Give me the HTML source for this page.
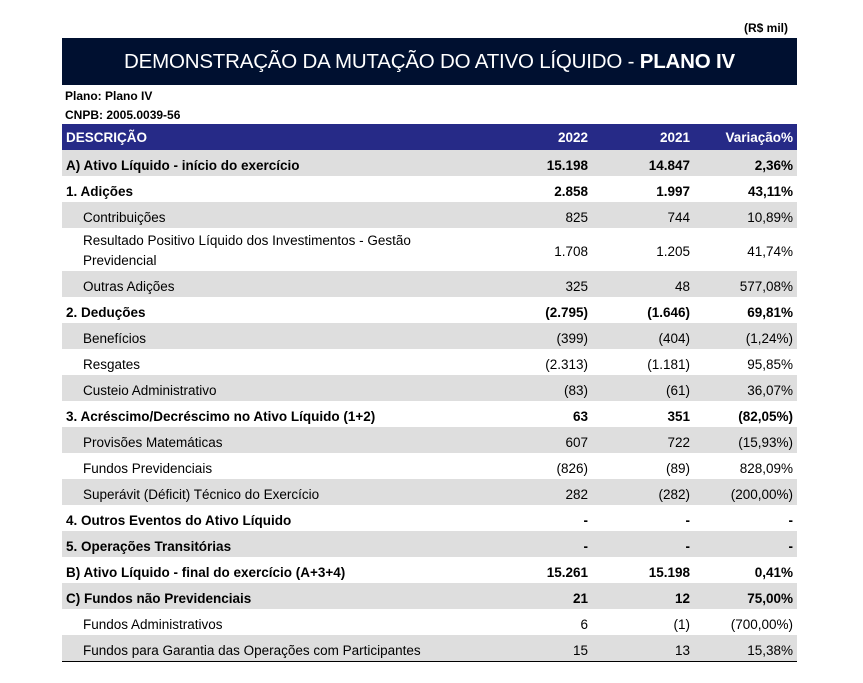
<!DOCTYPE html>
<html><head><meta charset="utf-8"><style>
body{margin:0;width:863px;height:683px;background:#fff;font-family:"Liberation Sans",sans-serif;color:#000;position:relative;overflow:hidden}
.unit{position:absolute;top:21px;right:75px;font-size:12px;font-weight:bold}
.title{position:absolute;left:62px;top:38px;width:735px;height:47px;background:#001030;color:#fff;font-size:20.5px;text-align:center;line-height:48px;letter-spacing:-0.2px}
.meta{position:absolute;left:65px;font-size:12px;font-weight:bold}
table{position:absolute;left:62px;top:124px;width:735px;border-collapse:collapse;font-size:13.5px}
td{padding:4px 4px 0 4px;height:22px;white-space:nowrap;box-sizing:content-box}
td.n{text-align:right}
td:nth-child(2){width:120px;padding-right:4px}
td:nth-child(3){width:94px;padding-right:4px}
td:nth-child(4){width:95px}
tr.h td{background:#262a87;color:#fff;font-weight:bold;padding-top:1px;height:25px}
tr.g td{background:#dedede}
tr.b td{font-weight:bold}
td.i{padding-left:21px}
tr.last td{border-bottom:1.5px solid #000}
</style></head><body>
<div class="unit">(R$ mil)</div>
<div class="title">DEMONSTRAÇÃO DA MUTAÇÃO DO ATIVO LÍQUIDO - <b>PLANO IV</b></div>
<div class="meta" style="top:89px">Plano: Plano IV</div>
<div class="meta" style="top:108px">CNPB: 2005.0039-56</div>
<table>
<tr class="h"><td>DESCRIÇÃO</td><td class="n">2022</td><td class="n">2021</td><td class="n">Variação%</td></tr>
<tr class="g b"><td>A) Ativo Líquido - início do exercício</td><td class="n">15.198</td><td class="n">14.847</td><td class="n">2,36%</td></tr>
<tr class="b"><td>1. Adições</td><td class="n">2.858</td><td class="n">1.997</td><td class="n">43,11%</td></tr>
<tr class="g"><td class="i">Contribuições</td><td class="n">825</td><td class="n">744</td><td class="n">10,89%</td></tr>
<tr><td class="i" style="height:37px;padding-top:3px;white-space:normal;line-height:20px">Resultado Positivo Líquido dos Investimentos - Gestão Previdencial</td><td class="n">1.708</td><td class="n">1.205</td><td class="n">41,74%</td></tr>
<tr class="g"><td class="i">Outras Adições</td><td class="n">325</td><td class="n">48</td><td class="n">577,08%</td></tr>
<tr class="b"><td>2. Deduções</td><td class="n">(2.795)</td><td class="n">(1.646)</td><td class="n">69,81%</td></tr>
<tr class="g"><td class="i">Benefícios</td><td class="n">(399)</td><td class="n">(404)</td><td class="n">(1,24%)</td></tr>
<tr><td class="i">Resgates</td><td class="n">(2.313)</td><td class="n">(1.181)</td><td class="n">95,85%</td></tr>
<tr class="g"><td class="i">Custeio Administrativo</td><td class="n">(83)</td><td class="n">(61)</td><td class="n">36,07%</td></tr>
<tr class="b"><td>3. Acréscimo/Decréscimo no Ativo Líquido (1+2)</td><td class="n">63</td><td class="n">351</td><td class="n">(82,05%)</td></tr>
<tr class="g"><td class="i">Provisões Matemáticas</td><td class="n">607</td><td class="n">722</td><td class="n">(15,93%)</td></tr>
<tr><td class="i">Fundos Previdenciais</td><td class="n">(826)</td><td class="n">(89)</td><td class="n">828,09%</td></tr>
<tr class="g"><td class="i">Superávit (Déficit) Técnico do Exercício</td><td class="n">282</td><td class="n">(282)</td><td class="n">(200,00%)</td></tr>
<tr class="b"><td>4. Outros Eventos do Ativo Líquido</td><td class="n">-</td><td class="n">-</td><td class="n">-</td></tr>
<tr class="g b"><td>5. Operações Transitórias</td><td class="n">-</td><td class="n">-</td><td class="n">-</td></tr>
<tr class="b"><td>B) Ativo Líquido - final do exercício (A+3+4)</td><td class="n">15.261</td><td class="n">15.198</td><td class="n">0,41%</td></tr>
<tr class="g b"><td>C) Fundos não Previdenciais</td><td class="n">21</td><td class="n">12</td><td class="n">75,00%</td></tr>
<tr><td class="i">Fundos Administrativos</td><td class="n">6</td><td class="n">(1)</td><td class="n">(700,00%)</td></tr>
<tr class="g last"><td class="i">Fundos para Garantia das Operações com Participantes</td><td class="n">15</td><td class="n">13</td><td class="n">15,38%</td></tr>
</table>
</body></html>
